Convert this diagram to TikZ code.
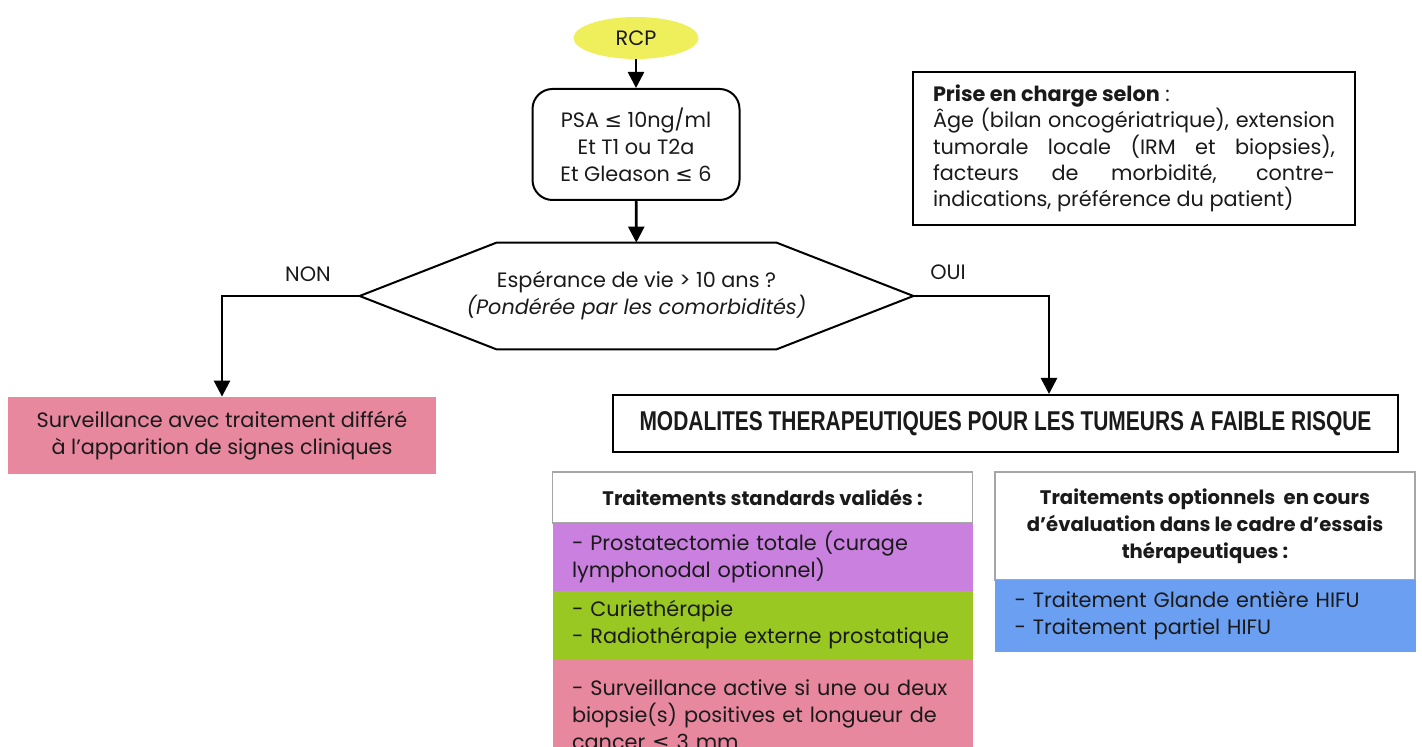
\documentclass[tikz,border=0pt]{standalone}
\usepackage{fontspec}
\setmainfont{Poppins}
\newfontfamily\symfont{DejaVu Sans}
\newfontfamily\narrowfont[FakeStretch=0.77]{Liberation Sans}
\usetikzlibrary{shapes.geometric,arrows.meta,positioning}
\definecolor{ink}{HTML}{1A1A1A}
\definecolor{rcpyellow}{HTML}{EFEF5C}
\definecolor{rosebox}{HTML}{E8889F}
\definecolor{lilas}{HTML}{C980DF}
\definecolor{vert}{HTML}{9AC823}
\definecolor{bleu}{HTML}{6A9FF2}
\definecolor{grisbord}{HTML}{A6A6A6}
\newcommand{\lesym}{{\symfont ≤}}
\newcommand{\jline}[1]{\makebox[201pt][s]{#1}}

\begin{document}
\begin{tikzpicture}[
	x=0.5pt, y=-0.5pt,
	every node/.style={font=\fontsize{10.4}{13.5}\selectfont, text=ink},
	fleche/.style={line width=1.3pt, -{Triangle[length=8pt,width=8pt]}},
	debut/.style={ellipse, fill=rcpyellow, minimum width=62.5pt, minimum height=21pt},
	critere/.style={draw, line width=1pt, rounded corners=10pt, align=center,
		minimum width=103.5pt, minimum height=55.5pt},
	question/.style={align=center, minimum width=276.5pt, minimum height=53pt},
	cadre/.style={draw, line width=1pt, align=center},
	entete/.style={draw=grisbord, line width=0.8pt, fill=white, align=center,
		font=\fontsize{9.8}{13.5}\selectfont\bfseries, minimum width=210pt},
	bloc/.style={inner xsep=9.5pt, inner ysep=0pt, text width=191pt, align=left,
		minimum width=210pt},
	]
\useasboundingbox (0,0) rectangle (1422,747);

% arbre de decision
\node [debut] (rcp) at (636,38) {RCP};
\node [critere] (psa) at (636,144.5)
	{PSA \lesym{} 10ng/ml\\Et T1 ou T2a\\Et Gleason \lesym{} 6};
\node [question] (esp) at (636.5,296)
	{Espérance de vie > 10 ans ?\\\textit{(Pondérée par les comorbidités)}};
\draw [line width=1pt] (esp.west) -- ([xshift=68.5pt]esp.north west)
	-- ([xshift=-68.5pt]esp.north east) -- (esp.east)
	-- ([xshift=-68.5pt]esp.south east) -- ([xshift=68.5pt]esp.south west) -- cycle;
\node [fill=rosebox, align=center, minimum width=214pt, minimum height=38.5pt] (surv) at (222,435.5)
	{Surveillance avec traitement différé\\à l’apparition de signes cliniques};
\node [cadre, minimum width=392.5pt, minimum height=28.5pt,
	font=\fontsize{13.6}{15}\narrowfont\bfseries] (modal) at (1005.5,423.5)
	{MODALITES THERAPEUTIQUES POUR LES TUMEURS A FAIBLE RISQUE};
\node (non) at (308,274) {NON};
\node (oui) at (948,272) {OUI};
\coordinate (coude) at (1049,296);

\draw [fleche] (rcp) -- (psa);
\draw [fleche] (psa) -- (esp);
\draw [fleche] (esp.west) -| (surv.north);
\draw [fleche] (esp.east) -- (coude) -- (coude |- modal.north);

% prise en charge
\node [cadre, inner xsep=10pt, minimum width=221pt, minimum height=76.5pt, align=left,
	font=\fontsize{10.4}{13.15}\selectfont] (prise) at (1134,148.5)
	{\textbf{Prise en charge selon} :\\
	\jline{Âge (bilan oncogériatrique), extension}\\
	\jline{tumorale locale (IRM et biopsies),}\\
	\jline{facteurs de morbidité, contre-}\\
	indications, préférence du patient)};

% traitements
\node [entete, minimum height=25.5pt] (std) at (762.5,497.5) {Traitements standards validés :};
\node [bloc, fill=lilas, minimum height=34pt] (prost) at (763,557)
	{- Prostatectomie totale (curage\\lymphonodal optionnel)};
\node [bloc, fill=vert, minimum height=34pt] (curie) at (763,625)
	{- Curiethérapie\\- Radiothérapie externe prostatique};
\node [bloc, fill=rosebox, minimum height=55.5pt] (actif) at (763,714.5)
	{- Surveillance active si une ou deux\\biopsie(s) positives et longueur de\\cancer \lesym{} 3 mm};
\node [entete, minimum height=54pt] (opt) at (1205,526)
	{Traitements optionnels\ \ en cours\\d’évaluation dans le cadre d’essais\\thérapeutiques :};
\node [bloc, fill=bleu, minimum width=210.5pt, minimum height=36pt] (hifu) at (1205.5,616)
	{- Traitement Glande entière HIFU\\- Traitement partiel HIFU};
\end{tikzpicture}
\end{document}
